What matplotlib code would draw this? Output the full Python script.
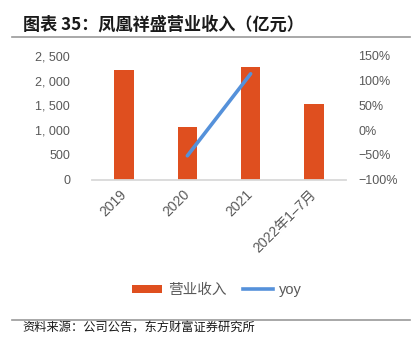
import matplotlib
matplotlib.use("Agg")
import matplotlib.pyplot as plt
from matplotlib.lines import Line2D
from matplotlib.patches import Patch
from matplotlib.ticker import FuncFormatter, MultipleLocator

plt.rcParams['font.family'] = ['Liberation Sans', 'Noto Sans CJK SC']

categories = ["2019", "2020", "2021", "2022年1–7月"]
revenue = [2216, 1069, 2283, 1528]
yoy_x = ["2020", "2021"]
yoy = [-52, 114]

title = "图表 35：凤凰祥盛营业收入（亿元）"
source = "资料来源：公司公告，东方财富证券研究所"
bar_label = "营业收入"
line_label = "yoy"

W, H = 418, 351
fig = plt.figure(figsize=(W / 100, H / 100), dpi=100)
ax = fig.add_axes([92.4 / W, 1 - 179.5 / H, (345.6 - 92.4) / W, (179.5 - 56) / H])

bar_color = "#DF4F1F"
line_color = "#5591DA"
tick_color = "#595959"

x = list(range(len(categories)))
ax.bar(x, revenue, width=0.31, color=bar_color, zorder=2)
ax.set_xlim(-0.5, len(categories) - 0.5)
ax.set_ylim(0, 2500)
ax.yaxis.set_major_locator(MultipleLocator(500))
ax.yaxis.set_major_formatter(FuncFormatter(lambda v, p: f"{int(v):,}".replace(",", ", ")))
for s in ["top", "right", "left"]:
    ax.spines[s].set_visible(False)
ax.spines["bottom"].set_color("#d9d9d9")
ax.spines["bottom"].set_linewidth(1.3)
ax.tick_params(axis="y", length=0, pad=16, labelsize=9, labelcolor=tick_color)
ax.tick_params(axis="x", length=0, pad=9, labelsize=10, labelcolor=tick_color)
ax.set_xticks(x)
ax.set_xticklabels(categories, rotation=45, ha="right", va="center", rotation_mode="anchor")
for lbl in ax.get_xticklabels():
    lbl.set_family(["Liberation Sans", "Noto Sans CJK SC"])

ax2 = ax.twinx()
xi = [categories.index(c) for c in yoy_x]
ax2.plot(xi, yoy, color=line_color, linewidth=2.6, solid_capstyle="round", zorder=3)
ax2.set_ylim(-100, 150)
ax2.yaxis.set_major_locator(MultipleLocator(50))
ax2.yaxis.set_major_formatter(FuncFormatter(lambda v, p: f"{int(v)}%".replace("-", "\u2212")))
for s in ["top", "right", "left", "bottom"]:
    ax2.spines[s].set_visible(False)
ax2.tick_params(axis="y", length=0, pad=9, labelsize=9, labelcolor=tick_color)

# Title and rules
fig.text(22.7 / W, 1 - 25 / H, title, fontsize=12.3, fontweight="bold",
         family=["Noto Sans CJK SC"], va="center", ha="left", color="#1a1a1a")
fig.add_artist(Line2D([12 / W, 410 / W], [1 - 37 / H, 1 - 37 / H], color="#999999", linewidth=1.2))
fig.add_artist(Line2D([12 / W, 410 / W], [1 - 320 / H, 1 - 320 / H], color="#999999", linewidth=1.2))
fig.text(22 / W, 1 - 328 / H, source, fontsize=8.8, family=["Noto Sans CJK SC"],
         va="center", ha="left", color="#1a1a1a")

handles = [Patch(facecolor=bar_color, edgecolor="none"),
           Line2D([0], [0], color=line_color, linewidth=2.6)]
fig.legend(handles, [bar_label, line_label], loc="center", bbox_to_anchor=(217 / W, 1 - 290 / H),
           ncol=2, frameon=False, fontsize=10.5, handlelength=2.1, handleheight=0.45,
           handletextpad=0.4, columnspacing=1.1, labelcolor=tick_color)

fig.savefig("out.png", dpi=100)
